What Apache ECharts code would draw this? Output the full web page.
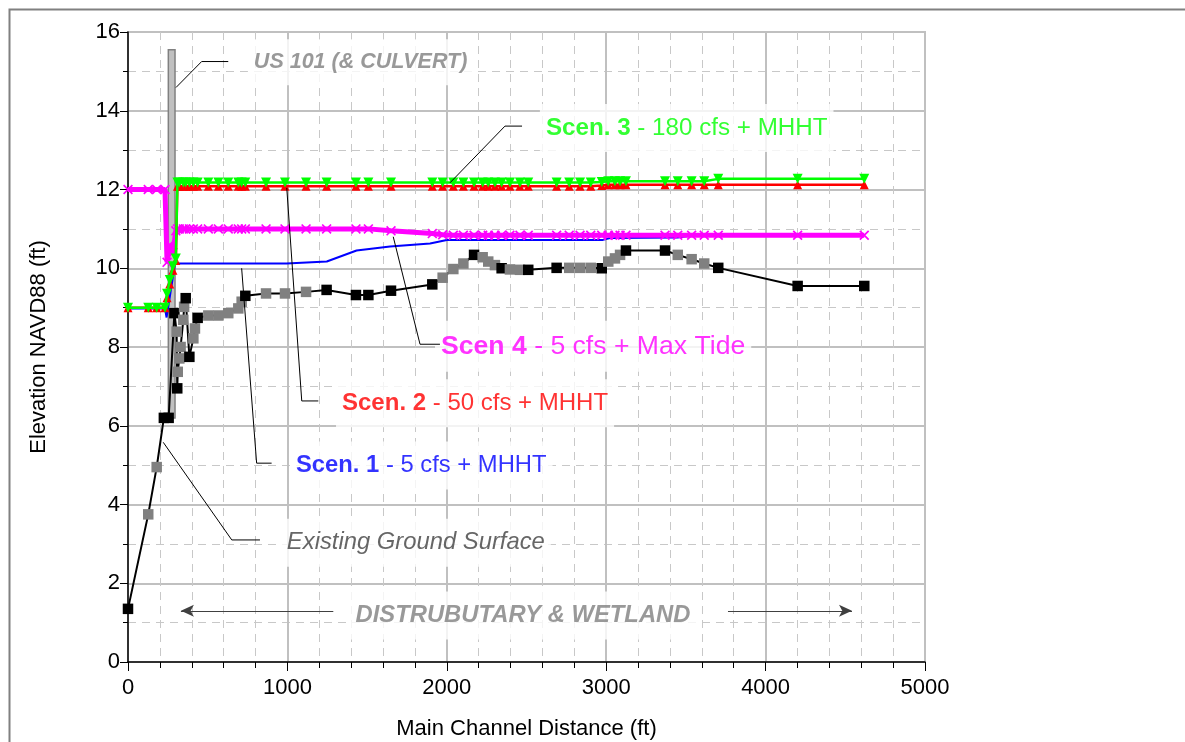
<!DOCTYPE html>
<html><head><meta charset="utf-8">
<script src="https://cdn.jsdelivr.net/npm/echarts/dist/echarts.min.js"></script>
<style>html,body{margin:0;padding:0;background:#fff}#c{width:1185px;height:742px}</style>
</head><body><div id="c"></div>
<script>
// ---- Existing ground surface (cross sections) ----
const groundDist = [0, 127, 180, 225, 255, 291, 305, 309, 312, 322, 330, 347, 352, 362, 385, 410, 420, 437, 504, 567, 629, 692, 713, 736, 866, 985, 1117, 1246, 1430, 1508, 1650, 1909, 1974, 2041, 2104, 2171, 2225, 2260, 2302, 2344, 2396, 2459, 2511, 2689, 2768, 2836, 2903, 2972, 3013, 3055, 3087, 3124, 3369, 3449, 3536, 3615, 3703, 4201, 4619];
const groundElev = [1.35, 3.75, 4.95, 6.2, 6.2, 8.86, 8.39, 6.95, 7.37, 7.71, 8.0, 8.69, 9.02, 9.24, 7.75, 8.22, 8.47, 8.74, 8.8, 8.8, 8.86, 8.98, 9.15, 9.3, 9.36, 9.36, 9.4, 9.45, 9.32, 9.32, 9.43, 9.59, 9.76, 9.98, 10.12, 10.34, 10.28, 10.17, 10.08, 10.0, 9.97, 9.96, 9.96, 10.01, 10.01, 10.01, 10.01, 10.0, 10.17, 10.25, 10.34, 10.45, 10.45, 10.34, 10.23, 10.12, 10.01, 9.55, 9.55];
const groundSurveyed = [1, 0, 0, 1, 1, 1, 0, 1, 0, 0, 0, 0, 0, 1, 1, 0, 0, 1, 0, 0, 0, 0, 0, 1, 0, 0, 0, 1, 1, 1, 1, 1, 0, 0, 0, 1, 0, 0, 0, 1, 0, 0, 1, 1, 0, 0, 0, 1, 0, 0, 0, 1, 1, 0, 0, 0, 1, 1, 1];

// ---- Water surface profiles ----
const scenDist = [0, 127, 180, 232, 245, 262, 282, 300, 310, 322, 347, 362, 385, 410, 437, 504, 567, 629, 692, 713, 736, 866, 985, 1117, 1246, 1430, 1508, 1650, 1909, 1974, 2041, 2104, 2171, 2225, 2260, 2302, 2344, 2396, 2459, 2511, 2689, 2768, 2836, 2903, 2972, 3013, 3055, 3087, 3124, 3369, 3449, 3536, 3615, 3703, 4201, 4619];
const scen2 = [9.0, 9.0, 9.0, 9.0, 9.25, 9.6, 9.95, 10.2, 12.08, 12.08, 12.08, 12.08, 12.08, 12.08, 12.08, 12.08, 12.08, 12.08, 12.08, 12.08, 12.08, 12.08, 12.08, 12.08, 12.08, 12.08, 12.08, 12.08, 12.08, 12.08, 12.08, 12.08, 12.08, 12.08, 12.08, 12.08, 12.08, 12.08, 12.08, 12.08, 12.08, 12.08, 12.08, 12.08, 12.1, 12.12, 12.12, 12.12, 12.12, 12.12, 12.12, 12.12, 12.12, 12.12, 12.12, 12.12];
const scen3 = [9.0, 9.0, 9.0, 9.0, 9.35, 9.7, 10.05, 10.25, 12.18, 12.18, 12.18, 12.18, 12.18, 12.18, 12.18, 12.18, 12.18, 12.18, 12.18, 12.18, 12.18, 12.18, 12.18, 12.18, 12.18, 12.18, 12.18, 12.18, 12.18, 12.18, 12.18, 12.18, 12.18, 12.18, 12.18, 12.18, 12.18, 12.18, 12.18, 12.18, 12.18, 12.18, 12.18, 12.18, 12.19, 12.21, 12.21, 12.21, 12.21, 12.21, 12.21, 12.21, 12.21, 12.27, 12.27, 12.27];
const scen4 = [12.0, 12.0, 12.0, 12.0, 10.15, 10.6, 10.4, 10.95, 11.0, 11.0, 11.0, 11.0, 11.0, 11.0, 11.0, 11.0, 11.0, 11.0, 11.0, 11.0, 11.0, 11.0, 11.0, 11.0, 11.0, 11.0, 11.0, 10.95, 10.88, 10.85, 10.84, 10.84, 10.84, 10.84, 10.84, 10.84, 10.84, 10.84, 10.84, 10.84, 10.84, 10.84, 10.84, 10.84, 10.84, 10.84, 10.84, 10.84, 10.84, 10.84, 10.84, 10.84, 10.84, 10.84, 10.84, 10.84];
const scen1Dist = [0, 232, 242, 295, 995, 1247, 1434, 1644, 1895, 2000, 2980, 3024, 3449, 3536, 4619];
const scen1 = [8.98, 8.98, 8.75, 10.12, 10.12, 10.17, 10.45, 10.55, 10.63, 10.72, 10.72, 10.77, 10.78, 10.83, 10.83];

// ---- US 101 culvert bar: [x0, x1, bottom, top] ----
const culvert = [253, 295, 6.2, 15.55];

// ---- Annotations (data coords) ----
const leaderUS101 = [[301, 14.59], [462, 15.25], [629, 15.25]];
const leaderScen3 = [[2020, 12.17], [2365, 13.61], [2472, 13.61]];
const leaderScen4 = [[1664, 10.8], [1832, 8.07], [1957, 8.07]];
const leaderScen2 = [[996, 12.04], [1090, 6.63], [1194, 6.63]];
const leaderScen1 = [[713, 10.0], [807, 5.05], [901, 5.05]];
const leaderGround = [[221, 5.58], [651, 3.1], [828, 3.1]];
const arrowLeft = [[1288, 1.3], [332, 1.3]];
const arrowRight = [[3764, 1.3], [4542, 1.3]];
const labelTexts = ['US 101 (& CULVERT)', 'Scen. 3', ' - 180 cfs + MHHT', 'Scen 4', ' - 5 cfs + Max Tide', 'Scen. 2', ' - 50 cfs + MHHT', 'Scen. 1', ' - 5 cfs + MHHT', 'Existing Ground Surface', 'DISTRUBUTARY & WETLAND'];
const labelPos = [[752, 15.23], [2584, 13.56], [1926, 8.02], [1305, 6.57], [1016, 4.99], [959, 3.03], [2478, 1.18]];

const FONT = 'Liberation Sans, Arial, sans-serif';
const chart = echarts.init(document.getElementById('c'), null, {renderer: 'canvas'});

const zip = (xs, ys) => xs.map((x, i) => [x, ys[i]]);
const xMark = 'path://M0,1.2L1.2,0L5,3.8L8.8,0L10,1.2L6.2,5L10,8.8L8.8,10L5,6.2L1.2,10L0,8.8L3.8,5Z';

function leader(data) {
  return {type: 'line', data: data, symbol: 'none', silent: true, z: 10,
    lineStyle: {color: '#000', width: 1}, animation: false};
}
function scenLabel(pos, bold, rest, color, size) {
  return {value: pos, label: {show: true, position: 'right', distance: 0,
    formatter: '{b|' + bold + '}{n|' + rest + '}',
    backgroundColor: '#fff', padding: [12, 6],
    rich: {b: {fontFamily: FONT, fontSize: size, fontWeight: 'bold', color: color},
           n: {fontFamily: FONT, fontSize: size, color: color}}}};
}

const labelData = [
  {value: labelPos[0], label: {show: true, position: 'right', distance: 0, formatter: labelTexts[0],
    fontFamily: FONT, fontSize: 21.5, fontWeight: 'bold', fontStyle: 'italic', color: '#808080',
    backgroundColor: '#fff', padding: [12, 6]}},
  scenLabel(labelPos[1], labelTexts[1], labelTexts[2], '#00ff00', 24.2),
  scenLabel(labelPos[2], labelTexts[3], labelTexts[4], '#ff00ff', 26.6),
  scenLabel(labelPos[3], labelTexts[5], labelTexts[6], '#ff0000', 24),
  scenLabel(labelPos[4], labelTexts[7], labelTexts[8], '#0000ff', 23.8),
  {value: labelPos[5], label: {show: true, position: 'right', distance: 0, formatter: labelTexts[9],
    fontFamily: FONT, fontSize: 23.8, fontStyle: 'italic', color: '#404040',
    backgroundColor: '#fff', padding: [12, 6]}},
  {value: labelPos[6], label: {show: true, position: 'inside', formatter: labelTexts[10],
    fontFamily: FONT, fontSize: 23.8, fontWeight: 'bold', fontStyle: 'italic', color: '#808080',
    backgroundColor: '#fff', padding: [12, 6]}}
];

const option = {
  animation: false,
  backgroundColor: '#fff',
  graphic: [{type: 'rect', left: 7, top: 7, z: 100, silent: true,
    shape: {width: 1200, height: 760}, style: {fill: 'none', stroke: '#808080', lineWidth: 2}}],
  grid: {left: 128, right: 260, top: 32, bottom: 80, containLabel: false, outerBoundsMode: 'none',
    show: true, borderColor: '#c0c0c0', borderWidth: 2, backgroundColor: 'transparent'},
  xAxis: {
    type: 'value', min: 0, max: 5000, interval: 1000,
    name: 'Main Channel Distance (ft)', nameLocation: 'middle', nameGap: 56,
    nameTextStyle: {fontFamily: FONT, fontSize: 22, color: '#000'},
    axisLine: {show: true, onZero: false, lineStyle: {color: '#000', width: 1.5}},
    axisTick: {show: true, inside: false, length: 9, lineStyle: {color: '#000', width: 1}},
    minorTick: {show: true, splitNumber: 5, length: 6, lineStyle: {color: '#000', width: 1}},
    splitLine: {show: true, lineStyle: {color: '#c0c0c0', width: 2}},
    minorSplitLine: {show: true, lineStyle: {color: '#c8c8c8', width: 1, type: [8, 6]}},
    axisLabel: {fontFamily: FONT, fontSize: 22, color: '#000', margin: 15, formatter: v => String(v)}
  },
  yAxis: {
    type: 'value', min: 0, max: 16, interval: 2,
    name: 'Elevation NAVD88 (ft)', nameLocation: 'middle', nameGap: 78, nameRotate: 90,
    nameTextStyle: {fontFamily: FONT, fontSize: 22, color: '#000'},
    axisLine: {show: true, onZero: false, lineStyle: {color: '#000', width: 1.5}},
    axisTick: {show: true, inside: false, length: 8, lineStyle: {color: '#000', width: 1}},
    minorTick: {show: true, splitNumber: 2, length: 5, lineStyle: {color: '#000', width: 1}},
    splitLine: {show: true, lineStyle: {color: '#c0c0c0', width: 2}},
    minorSplitLine: {show: true, lineStyle: {color: '#c8c8c8', width: 1, type: [8, 6]}},
    axisLabel: {fontFamily: FONT, fontSize: 22, color: '#000', margin: 8, formatter: v => String(v)}
  },
  series: [
    {type: 'scatter', data: labelData, symbolSize: 0, silent: true, z: 1},
    {type: 'custom', z: 2, silent: true, data: [culvert],
      renderItem: function (params, api) {
        const p0 = api.coord([api.value(0), api.value(3)]);
        const p1 = api.coord([api.value(1), api.value(2)]);
        return {type: 'rect', shape: {x: p0[0], y: p0[1], width: p1[0] - p0[0], height: p1[1] - p0[1]},
          style: {fill: '#c0c0c0', stroke: '#808080', lineWidth: 1.5}};
      }},
    {type: 'line', name: 'Existing Ground', z: 3, color: '#000',
      data: groundDist.map((d, i) => ({value: [d, groundElev[i]],
        itemStyle: {color: groundSurveyed[i] ? '#000' : '#808080'}})),
      symbol: 'rect', symbolSize: 10.5, showAllSymbol: true,
      lineStyle: {color: '#000', width: 2}},
    {type: 'line', name: 'Scen 1', z: 4, color: '#0000ff', data: zip(scen1Dist, scen1),
      symbol: 'none', lineStyle: {color: '#0000ff', width: 2}},
    {type: 'line', name: 'Scen 4', z: 5, color: '#ff00ff', data: zip(scenDist, scen4),
      symbol: xMark, symbolSize: 10, showAllSymbol: true, itemStyle: {color: '#ff00ff'},
      lineStyle: {color: '#ff00ff', width: 5}},
    {type: 'line', name: 'Scen 2', z: 6, color: '#ff0000', data: zip(scenDist, scen2),
      symbol: 'triangle', symbolSize: 9, showAllSymbol: true, itemStyle: {color: '#ff0000'},
      lineStyle: {color: '#ff0000', width: 2.5}},
    {type: 'line', name: 'Scen 3', z: 7, color: '#00ff00', data: zip(scenDist, scen3),
      symbol: 'triangle', symbolRotate: 180, symbolSize: 10, showAllSymbol: true, itemStyle: {color: '#00ff00'},
      lineStyle: {color: '#00ff00', width: 2.5}},
    leader(leaderUS101), leader(leaderScen3), leader(leaderScen4),
    leader(leaderScen2), leader(leaderScen1), leader(leaderGround),
    {type: 'line', data: [], z: 10, silent: true,
      markLine: {silent: true, symbol: ['none', 'arrow'], symbolSize: [9, 13], label: {show: false},
        lineStyle: {color: '#404040', width: 1, type: 'solid'},
        data: [[{coord: arrowLeft[0]}, {coord: arrowLeft[1]}], [{coord: arrowRight[0]}, {coord: arrowRight[1]}]]}}
  ]
};
chart.setOption(option);
</script></body></html>
